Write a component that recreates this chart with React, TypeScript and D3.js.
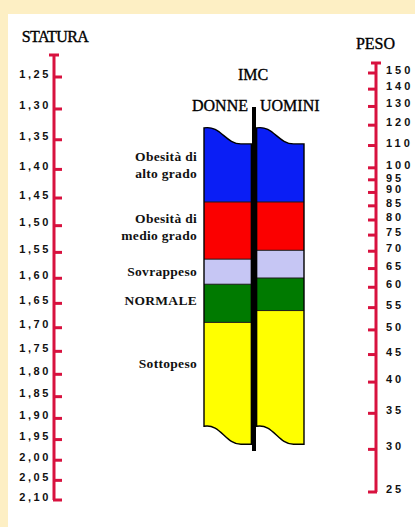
import React from 'react';
import * as d3 from 'd3';

// statura (m), left scale
const stature = [1.25, 1.3, 1.35, 1.4, 1.45, 1.5, 1.55, 1.6, 1.65, 1.7, 1.75, 1.8, 1.85, 1.9, 1.95, 2.0, 2.05, 2.1];
// peso (kg), right scale
const pesi = [150, 140, 130, 120, 110, 100, 95, 90, 85, 80, 75, 70, 65, 60, 55, 50, 45, 40, 35, 30, 25];

const sessi = ['DONNE', 'UOMINI'];
const categorie = [
  ['Obesità di', 'alto grado'],
  ['Obesità di', 'medio grado'],
  ['Sovrappeso'],
  ['NORMALE'],
  ['Sottopeso'],
];
// IMC limits, top of column -> bottom of column
const limitiDonne = [67, 40.7, 27.7, 23.4, 18.1, 9.0];
const limitiUomini = [67, 40.7, 29.4, 24.4, 19.6, 9.0];
const colori = ['#0a1ef5', '#fb0000', '#c6c6f4', '#007a00', '#ffff00'];

const W = 415;
const H = 527;
const AXIS = '#d8123f';
const SERIF = '"Liberation Serif", "Times New Roman", serif';
const SANS = '"Liberation Sans", Arial, sans-serif';

const yH = d3.scaleLog().domain([1.25, 2.1]).range([77, 500]);
const yW = d3.scaleLog().domain([25, 150]).range([492, 73]);

// nomogram: middle scale position that lines up height and weight
const kH = (500 - 77) / Math.log(2.1 / 1.25);
const kW = (492 - 73) / Math.log(150 / 25);
const t = kH / (kH + 2 * kW);
const imcY = (imc: number) => (1 - t) * yH(1.25) + t * yW(imc * 1.25 * 1.25);

const x = d3.scaleBand<string>().domain(sessi).range([204, 304]).paddingInner(0.1);

const fmtH = (v: number) => d3.format('.2f')(v).replace('.', ',');

function colonna(x0: number, x1: number, yTop: number, yBot: number) {
  const w = x1 - x0;
  const dTop = 16;
  const dBot = 18;
  const p = d3.path();
  p.moveTo(x0, yTop);
  p.bezierCurveTo(x0 + 0.35 * w, yTop - 3, x0 + 0.45 * w, yTop + dTop, x0 + 0.78 * w, yTop + dTop);
  p.lineTo(x1, yTop + dTop);
  p.lineTo(x1, yBot + dBot);
  p.lineTo(x0 + 0.78 * w, yBot + dBot);
  p.bezierCurveTo(x0 + 0.45 * w, yBot + dBot, x0 + 0.35 * w, yBot - 3, x0, yBot);
  p.closePath();
  return p.toString();
}

const labelNudge = [0, -4, 0, -3, -11];

export default function App() {
  const cols = [limitiDonne, limitiUomini];
  const head = { fontFamily: SERIF, fontSize: 16, stroke: '#000', strokeWidth: 0.35 };
  return (
    <svg width={W} height={H} style={{ position: 'absolute', left: 0, top: 0 }}>
      <rect width={W} height={H} fill="#fdefc4" />
      <rect x={8} y={14} width={W - 8} height={H - 14} fill="#ffffff" />

      {/* STATURA */}
      <text x={55} y={42} textAnchor="middle" letterSpacing={-0.6} {...head}>STATURA</text>
      <line x1={54} x2={54} y1={55} y2={yH(2.1)} stroke={AXIS} strokeWidth={3} />
      <line x1={49} x2={59} y1={55} y2={55} stroke={AXIS} strokeWidth={3} />
      {stature.map((v) => (
        <g key={v}>
          <line x1={53} x2={62} y1={yH(v)} y2={yH(v)} stroke={AXIS} strokeWidth={3} />
          <text x={51} y={yH(v) + 0.5} textAnchor="end" fontFamily={SANS} fontWeight="bold" fontSize={11} letterSpacing={2.6} fill="#111">
            {fmtH(v)}
          </text>
        </g>
      ))}

      {/* PESO */}
      <text x={375.5} y={49} textAnchor="middle" {...head}>PESO</text>
      <line x1={376} x2={376} y1={63} y2={yW(25)} stroke={AXIS} strokeWidth={3} />
      <line x1={371} x2={381} y1={63} y2={63} stroke={AXIS} strokeWidth={3} />
      {pesi.map((v) => (
        <g key={v}>
          <line x1={368} x2={377} y1={yW(v)} y2={yW(v)} stroke={AXIS} strokeWidth={3} />
          <text x={386} y={yW(v) + (v === 95 ? 2.5 : 1)} fontFamily={SANS} fontWeight="bold" fontSize={11} letterSpacing={3} fill="#111">
            {v}
          </text>
        </g>
      ))}

      {/* IMC */}
      <text x={253} y={80} textAnchor="middle" {...head}>IMC</text>
      <text x={248} y={111} textAnchor="end" {...head}>DONNE</text>
      <text x={260} y={111} {...head}>UOMINI</text>

      <defs>
        {sessi.map((s, i) => {
          const lim = cols[i];
          const x0 = x(s)!;
          return (
            <clipPath key={s} id={`clip-${s}`}>
              <path d={colonna(x0, x0 + x.bandwidth(), imcY(lim[0]), imcY(lim[lim.length - 1]))} />
            </clipPath>
          );
        })}
      </defs>

      {sessi.map((s, i) => {
        const lim = cols[i];
        const x0 = x(s)!;
        const bw = x.bandwidth();
        const shape = colonna(x0, x0 + bw, imcY(lim[0]), imcY(lim[lim.length - 1]));
        return (
          <g key={s}>
            <g clipPath={`url(#clip-${s})`}>
              {colori.map((c, j) => {
                const y0 = j === 0 ? imcY(lim[0]) - 6 : imcY(lim[j]);
                const y1 = j === colori.length - 1 ? imcY(lim[j + 1]) + 24 : imcY(lim[j + 1]);
                return <rect key={c} x={x0 - 2} width={bw + 4} y={y0} height={y1 - y0} fill={c} />;
              })}
              {lim.slice(1, -1).map((v) => (
                <line key={v} x1={x0} x2={x0 + bw} y1={imcY(v)} y2={imcY(v)} stroke="#1a1a1a" strokeWidth={1} />
              ))}
            </g>
            <path d={shape} fill="none" stroke="#000" strokeWidth={1.4} />
          </g>
        );
      })}

      <line x1={254} x2={254} y1={107} y2={451} stroke="#000" strokeWidth={4} />

      {categorie.map((lines, j) => {
        const yc = (imcY(limitiDonne[j]) + imcY(limitiDonne[j + 1])) / 2 + labelNudge[j];
        const lh = 17.5;
        return (
          <text key={j} textAnchor="end" fontFamily={SERIF} fontWeight="bold" fontSize={13.5} letterSpacing={0.3} fill="#111">
            {lines.map((l, k) => (
              <tspan key={k} x={197} y={yc + (k - (lines.length - 1) / 2) * lh} dy="0.35em">
                {l}
              </tspan>
            ))}
          </text>
        );
      })}
    </svg>
  );
}
